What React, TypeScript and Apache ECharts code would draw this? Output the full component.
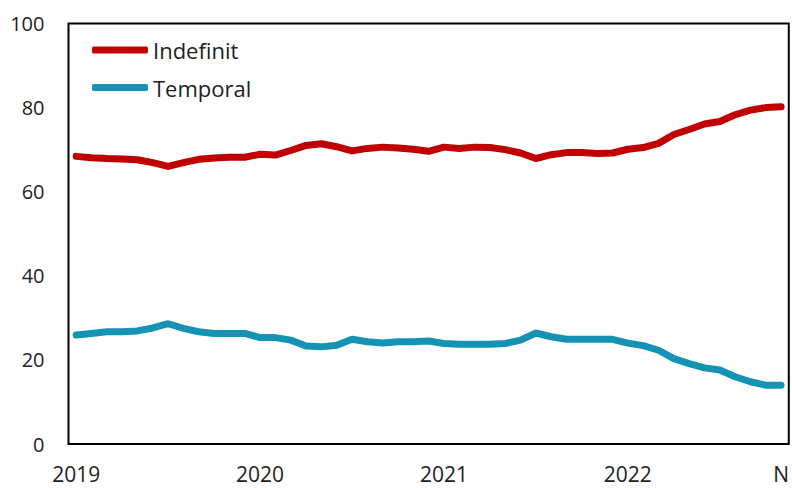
import React, { useEffect, useRef } from "react";
import * as echarts from "echarts";

const months: string[] = [];
for (let y = 2019; y <= 2022; y++) {
  for (let m = 1; m <= 12; m++) {
    if (y === 2022 && m > 11) break;
    months.push(`${y}-${m < 10 ? "0" + m : m}`);
  }
}

const lastLabel = "N";

const indefinit = [
  68.4, 68.1, 67.9, 67.8, 67.6, 66.9, 66.0, 66.9, 67.7, 68.0, 68.2, 68.2,
  68.9, 68.7, 69.8, 71.0, 71.4, 70.7, 69.7, 70.3, 70.6, 70.4, 70.1, 69.6,
  70.6, 70.3, 70.6, 70.5, 70.0, 69.2, 67.9, 68.8, 69.3, 69.3, 69.1, 69.2,
  70.1, 70.5, 71.5, 73.6, 74.8, 76.1, 76.7, 78.3, 79.4, 80.0, 80.2,
];

const temporal = [
  25.9, 26.3, 26.7, 26.7, 26.9, 27.6, 28.6, 27.5, 26.7, 26.3, 26.3, 26.3,
  25.3, 25.3, 24.7, 23.3, 23.1, 23.5, 24.9, 24.3, 24.0, 24.3, 24.3, 24.5,
  23.9, 23.7, 23.7, 23.7, 23.9, 24.7, 26.4, 25.5, 24.9, 24.9, 24.9, 24.9,
  24.0, 23.4, 22.3, 20.3, 19.1, 18.1, 17.6, 16.0, 14.8, 14.0, 14.0,
];

const seriesNames = ["Indefinit", "Temporal"];
const colors = ["#C00000", "#1593B4"];

export default function App() {
  const ref = useRef<HTMLDivElement>(null);
  useEffect(() => {
    if (!ref.current) return;
    const chart = echarts.init(ref.current, undefined, { renderer: "svg" });
    const font = "'Open Sans', sans-serif";
    chart.setOption({
      animation: false,
      textStyle: { fontFamily: font },
      grid: {
        left: 68.5,
        right: 2,
        top: 23.5,
        bottom: 44,
        show: true,
        borderColor: "#000",
        borderWidth: 2,
        backgroundColor: "transparent",
      },
      legend: {
        orient: "vertical",
        left: 92,
        top: 39,
        padding: 0,
        itemWidth: 56,
        itemHeight: 7,
        itemGap: 15.6,
        icon: "roundRect",
        textStyle: { fontSize: 22, color: "#222", fontFamily: font },
        data: seriesNames,
      },
      xAxis: {
        type: "category",
        data: months,
        boundaryGap: true,
        axisLine: { show: false },
        axisTick: { show: false },
        splitLine: { show: false },
        axisLabel: {
          interval: 0,
          fontSize: 21,
          color: "#222",
          fontFamily: font,
          margin: 19,
          formatter: (v: string, i: number) => {
            if (i === months.length - 1) return lastLabel;
            return v.endsWith("-01") ? v.slice(0, 4) : "";
          },
        },
      },
      yAxis: {
        type: "value",
        min: 0,
        max: 100,
        interval: 20,
        axisLine: { show: false },
        axisTick: { show: false },
        splitLine: { show: false },
        axisLabel: { fontSize: 20, color: "#222", fontFamily: font, margin: 24 },
      },
      series: [
        {
          name: seriesNames[0],
          type: "line",
          data: indefinit,
          showSymbol: false,
          symbol: "none",
          color: colors[0],
          lineStyle: { width: 7, color: colors[0], cap: "round", join: "round" },
        },
        {
          name: seriesNames[1],
          type: "line",
          data: temporal,
          showSymbol: false,
          symbol: "none",
          color: colors[1],
          lineStyle: { width: 7, color: colors[1], cap: "round", join: "round" },
        },
      ],
    });
    return () => chart.dispose();
  }, []);
  return (
    <div
      ref={ref}
      style={{ position: "absolute", left: 0, top: 0, width: 792, height: 488, background: "#fff" }}
    />
  );
}
